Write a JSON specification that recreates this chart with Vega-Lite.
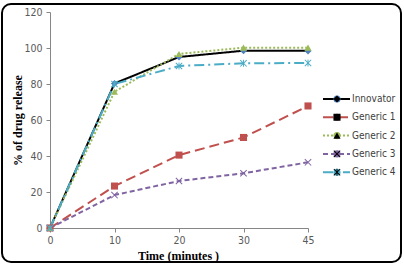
{
  "$schema": "https://vega.github.io/schema/vega-lite/v6.json",
  "width": 399,
  "height": 258,
  "autosize": {"type": "none"},
  "padding": {"left": 2, "top": 4, "right": 3, "bottom": 3},
  "background": "white",
  "config": {
    "view": {"stroke": "#000000", "strokeWidth": 2, "cornerRadius": 9},
    "axis": {
      "grid": false,
      "domainColor": "#868686",
      "tickColor": "#868686",
      "tickSize": 4,
      "labelColor": "#595959",
      "labelFont": "Liberation Sans Narrow, DejaVu Sans Condensed, Liberation Sans",
      "labelFontSize": 10.5,
      "titleFont": "Liberation Serif",
      "titleFontWeight": "bold",
      "titleFontSize": 12,
      "titleColor": "#000000"
    }
  },
  "data": {
    "values": [
      {"time": 0, "series": "Innovator", "pct": 0},
      {"time": 10, "series": "Innovator", "pct": 80.3},
      {"time": 20, "series": "Innovator", "pct": 95},
      {"time": 30, "series": "Innovator", "pct": 98.5},
      {"time": 45, "series": "Innovator", "pct": 98.4},
      {"time": 0, "series": "Generic 1", "pct": 0},
      {"time": 10, "series": "Generic 1", "pct": 23.3},
      {"time": 20, "series": "Generic 1", "pct": 40.5},
      {"time": 30, "series": "Generic 1", "pct": 50.3},
      {"time": 45, "series": "Generic 1", "pct": 67.8},
      {"time": 0, "series": "Generic 2", "pct": 0},
      {"time": 10, "series": "Generic 2", "pct": 75.7},
      {"time": 20, "series": "Generic 2", "pct": 96.7},
      {"time": 30, "series": "Generic 2", "pct": 100.2},
      {"time": 45, "series": "Generic 2", "pct": 100.2},
      {"time": 0, "series": "Generic 3", "pct": 0},
      {"time": 10, "series": "Generic 3", "pct": 18.3},
      {"time": 20, "series": "Generic 3", "pct": 26.1},
      {"time": 30, "series": "Generic 3", "pct": 30.4},
      {"time": 45, "series": "Generic 3", "pct": 36.5},
      {"time": 0, "series": "Generic 4", "pct": 0},
      {"time": 10, "series": "Generic 4", "pct": 80},
      {"time": 20, "series": "Generic 4", "pct": 90},
      {"time": 30, "series": "Generic 4", "pct": 91.5},
      {"time": 45, "series": "Generic 4", "pct": 91.7}
    ]
  },
  "encoding": {
    "x": {
      "field": "time",
      "type": "ordinal",
      "scale": {"type": "point", "range": [48, 306], "padding": 0},
      "axis": {
        "offset": -34,
        "labelAngle": 0,
        "labelPadding": 3,
        "title": "Time (minutes )",
        "titleX": 176,
        "titleY": 31,
        "titleBaseline": "alphabetic",
        "titleAnchor": null
      }
    },
    "y": {
      "field": "pct",
      "type": "quantitative",
      "scale": {"domain": [0, 120], "range": [224, 8], "nice": false, "zero": false},
      "axis": {
        "offset": -48,
        "values": [0, 20, 40, 60, 80, 100, 120],
        "labelPadding": 4,
        "title": "% of  drug release",
        "titleX": -33,
        "titleY": 116,
        "titleAngle": -90,
        "titleAlign": "center",
        "titleBaseline": "middle",
        "titleAnchor": null
      }
    }
  },
  "layer": [
    {
      "mark": {"type": "line", "strokeWidth": 2},
      "encoding": {
        "stroke": {
          "field": "series",
          "type": "nominal",
          "scale": {
            "domain": ["Innovator", "Generic 1", "Generic 2", "Generic 3", "Generic 4"],
            "range": ["#000000", "#c0504d", "#9bbb59", "#8064a2", "#4bacc6"]
          },
          "legend": {
            "orient": "none", "legendX": 320, "legendY": 87, "title": null,
            "symbolType": "stroke", "symbolSize": 729, "symbolStrokeWidth": 2,
            "labelFont": "Liberation Sans Narrow, DejaVu Sans Condensed, Liberation Sans",
            "labelFontSize": 10, "labelColor": "#404040", "labelOffset": 1,
            "clipHeight": 16, "rowPadding": 2.3, "padding": 0
          }
        },
        "strokeDash": {
          "field": "series",
          "type": "nominal",
          "scale": {
            "domain": ["Innovator", "Generic 1", "Generic 2", "Generic 3", "Generic 4"],
            "range": [[1, 0], [10, 5], [2, 2], [5, 3], [10, 4, 2, 4]]
          },
          "legend": {
            "orient": "none", "legendX": 320, "legendY": 87, "title": null,
            "symbolType": "stroke", "symbolSize": 729, "symbolStrokeWidth": 2,
            "labelFont": "Liberation Sans Narrow, DejaVu Sans Condensed, Liberation Sans",
            "labelFontSize": 10, "labelColor": "#404040", "labelOffset": 1,
            "clipHeight": 16, "rowPadding": 2.3, "padding": 0
          }
        }
      }
    },
    {
      "mark": {"type": "point", "filled": true, "size": 50, "opacity": 1},
      "encoding": {
        "color": {
          "field": "series",
          "type": "nominal",
          "sort": ["Innovator", "Generic 1", "Generic 2", "Generic 3", "Generic 4"],
          "scale": {"range": ["#4f81bd", "#c0504d", "#9bbb59", "#8064a2", "#4bacc6"]},
          "legend": {
            "orient": "none", "legendX": 330, "legendY": 87, "title": null,
            "symbolSize": 50, "symbolStrokeWidth": 0, "labelExpr": "''",
            "clipHeight": 16, "rowPadding": 2.3, "padding": 0
          }
        },
        "shape": {
          "field": "series",
          "type": "nominal",
          "sort": ["Innovator", "Generic 1", "Generic 2", "Generic 3", "Generic 4"],
          "scale": {"range": [
            "diamond",
            "square",
            "triangle-up",
            "M-1,-0.8L-0.8,-1L1,0.8L0.8,1Z M-1,0.8L0.8,-1L1,-0.8L-0.8,1Z",
            "M-1,-0.8L-0.8,-1L1,0.8L0.8,1Z M-1,0.8L0.8,-1L1,-0.8L-0.8,1Z M-0.13,-1L0.13,-1L0.13,1L-0.13,1Z"
          ]},
          "legend": {
            "orient": "none", "legendX": 330, "legendY": 87, "title": null,
            "symbolSize": 50, "symbolStrokeWidth": 0, "labelExpr": "''",
            "clipHeight": 16, "rowPadding": 2.3, "padding": 0
          }
        }
      }
    }
  ]
}
